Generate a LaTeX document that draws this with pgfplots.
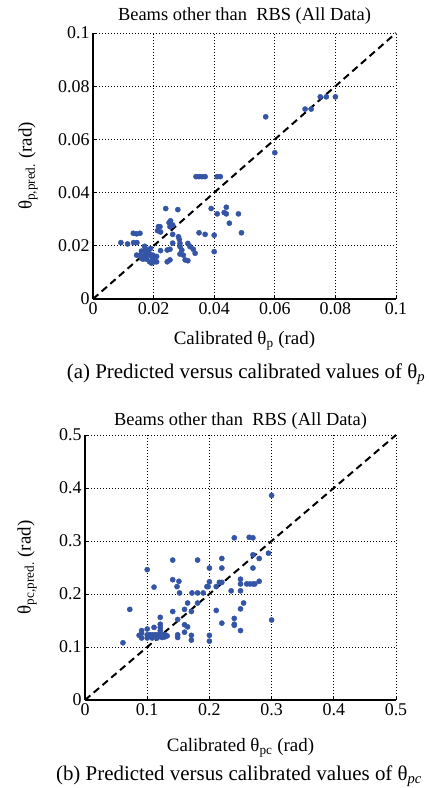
\documentclass[border=0pt]{standalone}
\usepackage{pgfplots}
\pgfplotsset{compat=1.18}
\usepackage{fontspec}
\setmainfont{Liberation Serif}
\definecolor{mk}{RGB}{52,84,166}
\pgfplotsset{
  myax/.style={
    scale only axis,
    axis lines=left,
    axis line style={-, line width=1.2bp, black},
    tick align=inside,
    major tick length=4bp,
    tick style={black, line width=0.8bp},
    grid=major,
    major grid style={black, line width=0.9bp, dash pattern=on 1.4bp off 1.6bp},
    ticklabel style={font=\fontsize{18}{20}\selectfont},
    label style={font=\fontsize{19}{21}\selectfont},
    title style={font=\fontsize{18.5}{20}\selectfont},
    clip=false,
  },
  mkst/.style={only marks, mark=*, mark size=2.6bp, mk, mark options={draw=mk, fill=mk}},
  diag/.style={black, line width=2bp, dash pattern=on 7bp off 4.5bp},
}
\begin{document}
\begin{tikzpicture}
\useasboundingbox (0bp,0bp) rectangle (429bp,-788bp);
% ---------- (a) ----------
\begin{axis}[myax,
  at={(93bp,-299bp)}, anchor=south west,
  width=303bp, height=266bp,
  xmin=0, xmax=0.1, ymin=0, ymax=0.1,
  xtick={0,0.02,0.04,0.06,0.08,0.1},
  ytick={0,0.02,0.04,0.06,0.08,0.1},
  xticklabels={0,0.02,0.04,0.06,0.08,0.1},
  yticklabels={0,0.02,0.04,0.06,0.08,0.1},
  title={Beams other than\ \ RBS (All Data)},
  title style={at={(axis description cs:0.5,1.042)}, anchor=center},
  xlabel={Calibrated θ\textsubscript{p} (rad)},
  xlabel style={at={(axis description cs:0.5,-0.158)}, anchor=center},
  ylabel={θ\textsubscript{p,pred.} (rad)},
  ylabel style={at={(axis description cs:-0.2145,0.5)}, anchor=center},
]
\addplot[diag] coordinates {(0,0) (0.1,0.1)};
\addplot[mkst] coordinates {
(0.075,0.076) (0.077,0.076) (0.080,0.076) (0.070,0.0714) (0.072,0.0714) (0.057,0.0685) (0.060,0.055)
(0.034,0.046) (0.035,0.046) (0.036,0.046) (0.037,0.046) (0.041,0.046) (0.042,0.046)
(0.024,0.034) (0.028,0.0336) (0.039,0.034) (0.044,0.0345) (0.041,0.032) (0.0433,0.0325) (0.044,0.032) (0.048,0.032)
(0.045,0.0285) (0.049,0.0249) (0.035,0.0249) (0.037,0.0243) (0.040,0.024) (0.040,0.0178)
(0.0251,0.0287) (0.0256,0.0294) (0.0263,0.0278) (0.0254,0.0272) (0.0216,0.0272) (0.0221,0.0272) (0.0213,0.0257) (0.0223,0.0252)
(0.0133,0.0247) (0.0144,0.0245) (0.0155,0.0247)
(0.0092,0.0212) (0.0114,0.0207) (0.0134,0.0212) (0.0145,0.0212)
(0.0263,0.0243) (0.0282,0.0234) (0.0285,0.0224) (0.0287,0.0209) (0.0263,0.021)
(0.0313,0.0209) (0.032,0.0197) (0.0331,0.0187) (0.0337,0.0172)
(0.0287,0.0197) (0.0293,0.0184) (0.0287,0.0169) (0.0298,0.0165) (0.0304,0.0147) (0.0313,0.0144)
(0.0245,0.0184) (0.0254,0.0187) (0.0245,0.014) (0.0254,0.0147) (0.0223,0.0182)
(0.0144,0.0165) (0.017,0.0198)
(0.0160,0.018) (0.0172,0.0178) (0.0155,0.0165) (0.0165,0.016) (0.0176,0.0165) (0.0187,0.017)
(0.0193,0.016) (0.0198,0.0153) (0.0176,0.015) (0.0165,0.015) (0.0187,0.0140) (0.0204,0.0140)
(0.021,0.014) (0.0193,0.0135) (0.0176,0.0153) (0.016,0.0153) (0.0182,0.0178) (0.0198,0.0165)
(0.021,0.016) (0.019,0.019) (0.018,0.0185) (0.0172,0.0185)
};
\end{axis}
\node[font=\fontsize{21}{23}\selectfont, anchor=center] at (246bp,-374bp) {(a) Predicted versus calibrated values of θ\textsubscript{\textit{p}}};
% ---------- (b) ----------
\begin{axis}[myax,
  at={(85bp,-700bp)}, anchor=south west,
  width=311bp, height=265bp,
  xmin=0, xmax=0.5, ymin=0, ymax=0.5,
  xtick={0,0.1,0.2,0.3,0.4,0.5},
  ytick={0,0.1,0.2,0.3,0.4,0.5},
  xticklabels={0,0.1,0.2,0.3,0.4,0.5},
  yticklabels={0,0.1,0.2,0.3,0.4,0.5},
  title={Beams other than\ \ RBS (All Data)},
  title style={at={(axis description cs:0.5,1.03)}, anchor=center},
  xlabel={Calibrated θ\textsubscript{pc} (rad)},
  xlabel style={at={(axis description cs:0.5,-0.18)}, anchor=center},
  ylabel={θ\textsubscript{pc,pred.} (rad)},
  ylabel style={at={(axis description cs:-0.1865,0.5)}, anchor=center},
]
\addplot[diag] coordinates {(0,0) (0.5,0.5)};
\addplot[mkst] coordinates {
(0.300,0.386) (0.240,0.306) (0.264,0.307) (0.270,0.306) (0.270,0.274) (0.295,0.277) (0.280,0.267)
(0.220,0.267) (0.141,0.264) (0.181,0.264) (0.200,0.249) (0.220,0.249) (0.270,0.249) (0.100,0.246)
(0.141,0.227) (0.151,0.224) (0.148,0.214) (0.111,0.213) (0.152,0.202) (0.172,0.202) (0.181,0.202)
(0.190,0.202) (0.196,0.214) (0.198,0.214) (0.200,0.223) (0.211,0.214) (0.216,0.222) (0.220,0.222)
(0.235,0.206) (0.250,0.228) (0.250,0.219) (0.260,0.219) (0.265,0.219) (0.270,0.219) (0.273,0.219)
(0.280,0.224) (0.250,0.206)
(0.072,0.171) (0.061,0.108) (0.300,0.151) (0.141,0.167) (0.149,0.152) (0.160,0.171) (0.165,0.183)
(0.171,0.167) (0.181,0.183) (0.211,0.169) (0.220,0.145) (0.240,0.154) (0.240,0.143) (0.240,0.141)
(0.250,0.172) (0.255,0.183) (0.250,0.131) (0.160,0.142) (0.165,0.138) (0.160,0.128) (0.171,0.122)
(0.171,0.113) (0.200,0.122) (0.200,0.111) (0.149,0.123) (0.149,0.118) (0.121,0.156) (0.121,0.143)
(0.121,0.137) (0.121,0.131) (0.111,0.137) (0.100,0.134) (0.091,0.131) (0.091,0.126) (0.087,0.122)
(0.091,0.117) (0.100,0.123) (0.100,0.117) (0.104,0.123) (0.108,0.123) (0.112,0.123) (0.116,0.123)
(0.120,0.123) (0.124,0.123) (0.129,0.123) (0.132,0.121) (0.108,0.117) (0.116,0.117) (0.124,0.118)
(0.128,0.119)
};
\end{axis}
\node[font=\fontsize{21}{23}\selectfont, anchor=center] at (239bp,-776bp) {(b) Predicted versus calibrated values of θ\textsubscript{\textit{pc}}};
\end{tikzpicture}
\end{document}
